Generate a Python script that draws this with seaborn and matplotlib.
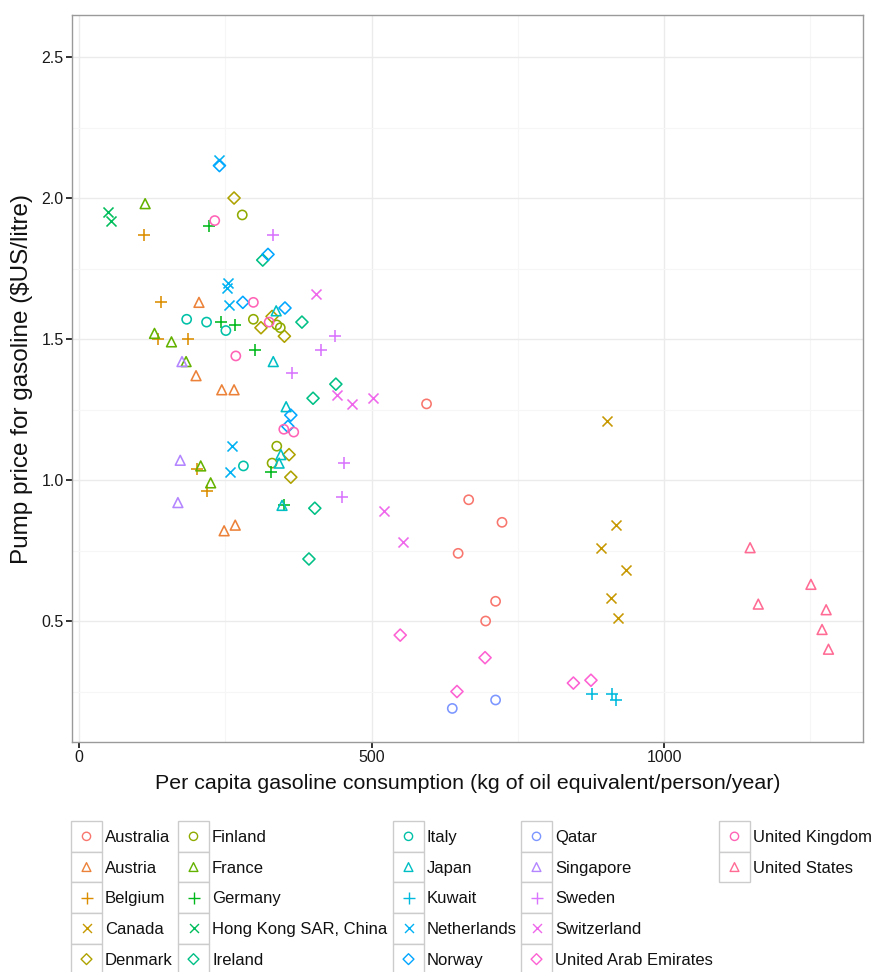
import numpy as np
import pandas as pd
import matplotlib
matplotlib.use("Agg")
import matplotlib.pyplot as plt
import seaborn as sns
from matplotlib.patches import Rectangle

# ---------------- data ----------------
countries = ["Australia", "Austria", "Belgium", "Canada", "Denmark", "Finland",
             "France", "Germany", "Hong Kong SAR, China", "Ireland", "Italy",
             "Japan", "Kuwait", "Netherlands", "Norway", "Qatar", "Singapore",
             "Sweden", "Switzerland", "United Arab Emirates", "United Kingdom",
             "United States"]

australia_x = [594, 666, 723, 648, 712, 695]
australia_y = [1.27, 0.93, 0.85, 0.74, 0.57, 0.50]
austria_x = [205, 200, 244, 265, 248, 267]
austria_y = [1.63, 1.37, 1.32, 1.32, 0.82, 0.84]
belgium_x = [111, 140, 135, 186, 201, 219]
belgium_y = [1.87, 1.63, 1.50, 1.50, 1.04, 0.96]
canada_x = [902, 917, 892, 935, 909, 921]
canada_y = [1.21, 0.84, 0.76, 0.68, 0.58, 0.51]
denmark_x = [265, 330, 311, 351, 359, 362]
denmark_y = [2.00, 1.58, 1.54, 1.51, 1.09, 1.01]
finland_x = [279, 298, 338, 344, 338, 330]
finland_y = [1.94, 1.57, 1.55, 1.54, 1.12, 1.06]
france_x = [113, 129, 158, 183, 208, 225]
france_y = [1.98, 1.52, 1.49, 1.42, 1.05, 0.99]
germany_x = [222, 243, 267, 301, 328, 350]
germany_y = [1.90, 1.56, 1.55, 1.46, 1.03, 0.91]
hongkong_x = [49, 54]
hongkong_y = [1.95, 1.92]
ireland_x = [314, 381, 439, 400, 403, 393]
ireland_y = [1.78, 1.56, 1.34, 1.29, 0.90, 0.72]
italy_x = [184, 218, 251, 281]
italy_y = [1.57, 1.56, 1.53, 1.05]
japan_x = [337, 332, 354, 345, 342, 347]
japan_y = [1.60, 1.42, 1.26, 1.09, 1.06, 0.91]
kuwait_x = [877, 911, 918]
kuwait_y = [0.24, 0.24, 0.22]
netherlands_x = [239, 255, 253, 257, 261, 258]
netherlands_y = [2.135, 1.70, 1.68, 1.62, 1.12, 1.03]
norway_x = [240, 323, 280, 352, 362, 357]
norway_y = [2.115, 1.80, 1.63, 1.61, 1.23, 1.19]
qatar_x = [638, 712]
qatar_y = [0.19, 0.22]
singapore_x = [176, 173, 169]
singapore_y = [1.42, 1.07, 0.92]
sweden_x = [332, 438, 413, 364, 453, 450]
sweden_y = [1.87, 1.51, 1.46, 1.38, 1.06, 0.94]
switzerland_x = [405, 441, 467, 502, 521, 554]
switzerland_y = [1.66, 1.30, 1.27, 1.29, 0.89, 0.78]
uae_x = [549, 694, 646, 845, 875]
uae_y = [0.45, 0.37, 0.25, 0.28, 0.29]
uk_x = [232, 298, 325, 268, 350, 367]
uk_y = [1.92, 1.63, 1.56, 1.44, 1.18, 1.17]
us_x = [1147, 1161, 1251, 1277, 1270, 1281]
us_y = [0.76, 0.56, 0.63, 0.54, 0.47, 0.40]

series_x = [australia_x, austria_x, belgium_x, canada_x, denmark_x, finland_x,
            france_x, germany_x, hongkong_x, ireland_x, italy_x, japan_x,
            kuwait_x, netherlands_x, norway_x, qatar_x, singapore_x, sweden_x,
            switzerland_x, uae_x, uk_x, us_x]
series_y = [australia_y, austria_y, belgium_y, canada_y, denmark_y, finland_y,
            france_y, germany_y, hongkong_y, ireland_y, italy_y, japan_y,
            kuwait_y, netherlands_y, norway_y, qatar_y, singapore_y, sweden_y,
            switzerland_y, uae_y, uk_y, us_y]

x_ticks = [0, 500, 1000]
y_ticks = [0.5, 1.0, 1.5, 2.0, 2.5]
y_tick_labels = ["0.5", "1.0", "1.5", "2.0", "2.5"]

rows = []
for c, xs, ys in zip(countries, series_x, series_y):
    for xv, yv in zip(xs, ys):
        rows.append((c, xv, yv))
df = pd.DataFrame(rows, columns=["country", "consumption", "price"])


# ---------------- ggplot-like hue palette ----------------
def hcl_hex(h, c=100.0, l=65.0):
    hr = np.deg2rad(h)
    U, V = c * np.cos(hr), c * np.sin(hr)
    Xn, Yn, Zn = 95.047, 100.0, 108.883
    den = Xn + 15 * Yn + 3 * Zn
    un, vn = 4 * Xn / den, 9 * Yn / den
    Y = Yn * ((l + 16) / 116) ** 3
    u = U / (13 * l) + un
    v = V / (13 * l) + vn
    X = 9.0 * Y * u / (4 * v)
    Z = -X / 3 - 5 * Y + 3 * Y / v
    X, Y, Z = X / 100, Y / 100, Z / 100
    rgb = [3.240479 * X - 1.537150 * Y - 0.498535 * Z,
           -0.969256 * X + 1.875992 * Y + 0.041556 * Z,
           0.055648 * X - 0.204043 * Y + 1.057311 * Z]
    out = []
    for t in rgb:
        t = 12.92 * t if t <= 0.0031308 else 1.055 * t ** (1 / 2.4) - 0.055
        out.append(min(max(t, 0), 1))
    return tuple(out)


n = len(countries)
hues = np.linspace(15, 375, n + 1)[:n]
palette = {c: hcl_hex(h) for c, h in zip(countries, hues)}
shape_cycle = ["o", "^", "+", "x", "D"]
marker_of = {c: shape_cycle[i % 5] for i, c in enumerate(countries)}
size_of = {"o": 44, "^": 50, "+": 82, "x": 52, "D": 38}

# ---------------- figure ----------------
sns.set_theme(style="white")
plt.rcParams["font.family"] = ["Liberation Sans", "DejaVu Sans"]

W, H = 876, 972
fig = plt.figure(figsize=(W / 100, H / 100), dpi=100)

# legend layer (pixel coordinates)
lax = fig.add_axes([0, 0, 1, 1])
lax.set_xlim(0, W)
lax.set_ylim(H, 0)
lax.axis("off")

L, R, T, B = 72, 863, 15, 742
ax = fig.add_axes([L / W, 1 - B / H, (R - L) / W, (B - T) / H])
ax.set_facecolor("white")

for c in countries:
    m = marker_of[c]
    sub = df[df["country"] == c]
    col = palette[c]
    kw = dict(marker=m, s=size_of[m], linewidth=1.15, zorder=3)
    if m in ("o", "^", "D"):
        kw.update(facecolor="none", edgecolor=col)
    else:
        kw.update(color=col)
    sns.scatterplot(data=sub, x="consumption", y="price", ax=ax, legend=False, **kw)

ax.set_xlim(-12, 1340)
ax.set_ylim(0.071, 2.649)
ax.set_xticks(x_ticks)
ax.set_xticklabels([str(v) for v in x_ticks])
ax.set_yticks(y_ticks)
ax.set_yticklabels(y_tick_labels)
ax.set_xticks([250, 750, 1250], minor=True)
ax.set_yticks([0.25, 0.75, 1.25, 1.75, 2.25], minor=True)
ax.grid(True, which="major", color="#ebebeb", linewidth=1.0, zorder=0)
ax.grid(True, which="minor", color="#f6f6f6", linewidth=0.8, zorder=0)
ax.set_axisbelow(True)
ax.tick_params(which="major", direction="out", length=4.5, width=1.3,
               color="#222222", labelsize=11.5, labelcolor="#1a1a1a", pad=1.5,
               bottom=True, left=True)
ax.tick_params(which="minor", length=0)
for sp in ax.spines.values():
    sp.set_color("#9a9a9a")
    sp.set_linewidth(1.0)

ax.set_xlabel("Per capita gasoline consumption (kg of oil equivalent/person/year)",
              fontsize=15.4, color="#111111", labelpad=6)
ax.set_ylabel("Pump price for gasoline (\\$US/litre)", fontsize=17.5,
              color="#111111", labelpad=6)

# ---------------- legend (ggplot style, column-major, 5 rows) ----------------
col_left = [71, 178, 393, 521, 719]
key_w, key_h, top0 = 31, 30.7, 821
for i, c in enumerate(countries):
    ci, ri = divmod(i, 5)
    x0 = col_left[ci]
    y0 = top0 + key_h * ri
    lax.add_patch(Rectangle((x0, y0), key_w, key_h, facecolor="white",
                            edgecolor="#cccccc", linewidth=1.0, zorder=1))
    m = marker_of[c]
    col = palette[c]
    kw = dict(marker=m, s=size_of[m] * 0.8, linewidth=1.0, zorder=2)
    if m in ("o", "^", "D"):
        kw.update(facecolor="none", edgecolor=col)
    else:
        kw.update(color=col)
    lax.scatter([x0 + key_w / 2], [y0 + key_h / 2], **kw)
    lax.text(x0 + key_w + 3, y0 + key_h / 2 + 1, c, fontsize=12,
             va="center", ha="left", color="#111111", zorder=2)

fig.savefig("out.png", dpi=100, facecolor="white")
